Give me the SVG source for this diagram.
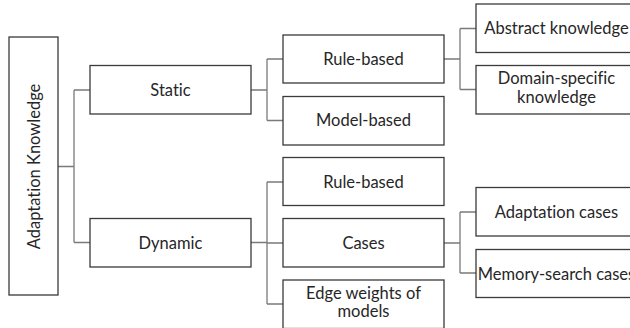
<svg xmlns="http://www.w3.org/2000/svg" width="630" height="328" viewBox="0 0 630 328">
  <style>
    .box { fill: #ffffff; stroke: #3a3a3a; stroke-width: 1.3; }
    .lbl { font-family: Lato, "Open Sans", "Liberation Sans", sans-serif; font-size: 16.5px; fill: #262626; text-anchor: middle; font-variant-ligatures: none; }
    .wire { fill: none; stroke: #7a7a7a; stroke-width: 1.3; }
  </style>
  <rect width="630" height="328" fill="#ffffff"/>

  <!-- tree connectors -->
  <g id="connectors">
    <path class="wire" d="M58 166.5 H74 M74 90 V242.5 M74 90 H90 M74 242.5 H90"/>
    <path class="wire" d="M251 90 H267 M267 59 V120.5 M267 59 H283 M267 120.5 H283"/>
    <path class="wire" d="M251 242.5 H267 M267 182 V304 M267 182 H283 M267 243 H283 M267 304 H283"/>
    <path class="wire" d="M444 59 H460 M460 28.5 V89.5 M460 28.5 H476 M460 89.5 H476"/>
    <path class="wire" d="M444 243 H460 M460 212 V273 M460 212 H476 M460 273 H476"/>
  </g>

  <g id="root">
    <rect class="box" x="9" y="37" width="49" height="258"/>
    <text class="lbl" transform="translate(39.5 166.5) rotate(-90)" x="0" y="0">Adaptation Knowledge</text>
  </g>

  <g id="static">
    <rect class="box" x="90" y="65.5" width="161" height="48.5"/>
    <text class="lbl" x="170.5" y="95.5">Static</text>
  </g>
  <g id="dynamic">
    <rect class="box" x="90" y="218.5" width="161" height="48.5"/>
    <text class="lbl" x="170.5" y="248.5">Dynamic</text>
  </g>

  <g id="static-rule">
    <rect class="box" x="283" y="35" width="161" height="48"/>
    <text class="lbl" x="363.5" y="64.5">Rule-based</text>
  </g>
  <g id="model-based">
    <rect class="box" x="283" y="96.5" width="161" height="48.5"/>
    <text class="lbl" x="363.5" y="126">Model-based</text>
  </g>
  <g id="dynamic-rule">
    <rect class="box" x="283" y="157.5" width="161" height="48"/>
    <text class="lbl" x="363.5" y="187.5">Rule-based</text>
  </g>
  <g id="cases">
    <rect class="box" x="283" y="218.5" width="161" height="48.5"/>
    <text class="lbl" x="363.5" y="248.5">Cases</text>
  </g>
  <g id="edge-weights">
    <rect class="box" x="283" y="280" width="161" height="48.5"/>
    <text class="lbl" x="363.5" y="298.5">Edge weights of</text>
    <text class="lbl" x="363.5" y="317">models</text>
  </g>

  <g id="abstract">
    <rect class="box" x="476" y="4" width="161" height="48.5"/>
    <text class="lbl" x="556.5" y="34">Abstract knowledge</text>
  </g>
  <g id="domain">
    <rect class="box" x="476" y="65.5" width="161" height="48.5"/>
    <text class="lbl" x="556.5" y="84">Domain-specific</text>
    <text class="lbl" x="556.5" y="102.5">knowledge</text>
  </g>
  <g id="adaptation-cases">
    <rect class="box" x="476" y="187.5" width="161" height="48.5"/>
    <text class="lbl" x="556.5" y="217.5">Adaptation cases</text>
  </g>
  <g id="memory-search">
    <rect class="box" x="476" y="249.5" width="161" height="48"/>
    <text class="lbl" x="556.5" y="279.5">Memory-search cases</text>
  </g>
</svg>
